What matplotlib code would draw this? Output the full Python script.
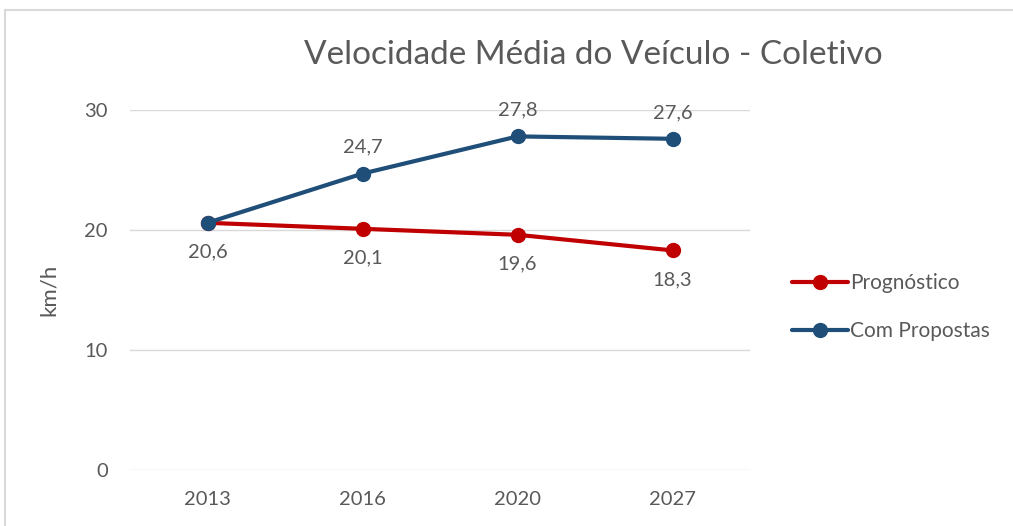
import matplotlib
matplotlib.use("Agg")
import matplotlib.pyplot as plt
from matplotlib.lines import Line2D

plt.rcParams['font.family'] = ['Lato', 'DejaVu Sans']

years = ["2013", "2016", "2020", "2027"]
prognostico = [20.6, 20.1, 19.6, 18.3]
com_propostas = [20.6, 24.7, 27.8, 27.6]
y_ticks = [0, 10, 20, 30]

RED = "#C00000"
BLUE = "#1F4E79"
TEXT = "#595959"
GRID = "#D9D9D9"

W, H = 1013, 526
fig = plt.figure(figsize=(W / 100, H / 100), dpi=100)
ax = fig.add_axes([130 / W, (H - 470) / H, 620 / W, 360 / H])

x = list(range(len(years)))
ax.plot(x, prognostico, color=RED, lw=3, marker="o", ms=10, zorder=3,
        label="Prognóstico", solid_capstyle="round")
ax.plot(x, com_propostas, color=BLUE, lw=3, marker="o", ms=10, zorder=4,
        label="Com Propostas", solid_capstyle="round")

def fmt(v):
    return f"{v:.1f}".replace(".", ",")

for xi, v in zip(x, prognostico):
    ax.annotate(fmt(v), (xi, v), xytext=(0, -21), textcoords="offset points",
                ha="center", va="center", fontsize=14.5, color=TEXT)
for xi, v in zip(x[1:], com_propostas[1:]):
    ax.annotate(fmt(v), (xi, v), xytext=(0, 19), textcoords="offset points",
                ha="center", va="center", fontsize=14.5, color=TEXT)

ax.set_xlim(-0.5, len(years) - 0.5)
ax.set_ylim(0, 30)
ax.set_xticks(x)
ax.set_xticklabels(years)
ax.set_yticks(y_ticks)
ax.tick_params(axis="both", length=0, labelsize=14.5, colors=TEXT)
ax.tick_params(axis="y", pad=16)
ax.tick_params(axis="x", pad=15)
ax.grid(axis="y", color=GRID, lw=1)
ax.set_axisbelow(True)
for s in ax.spines.values():
    s.set_visible(False)

ax.set_ylabel("km/h", fontsize=16, color=TEXT, labelpad=18)

fig.text(593 / W, 1 - 55 / H, "Velocidade Média do Veículo - Coletivo",
         ha="center", va="center", fontsize=24, color=TEXT)

ax.legend(loc="center left", bbox_to_anchor=(773 / W, 1 - 307 / H),
          bbox_transform=fig.transFigure, frameon=False, fontsize=15,
          labelcolor=TEXT, handlelength=2.7, handletextpad=0.1,
          labelspacing=1.35)

# chart frame
fig.add_artist(Line2D([5 / W, 5 / W], [0, 1 - 10 / H], color=GRID, lw=1.5,
                      transform=fig.transFigure))
fig.add_artist(Line2D([5 / W, 1], [1 - 10 / H, 1 - 10 / H], color=GRID, lw=1.5,
                      transform=fig.transFigure))

fig.savefig("out.png", dpi=100, facecolor="white")
